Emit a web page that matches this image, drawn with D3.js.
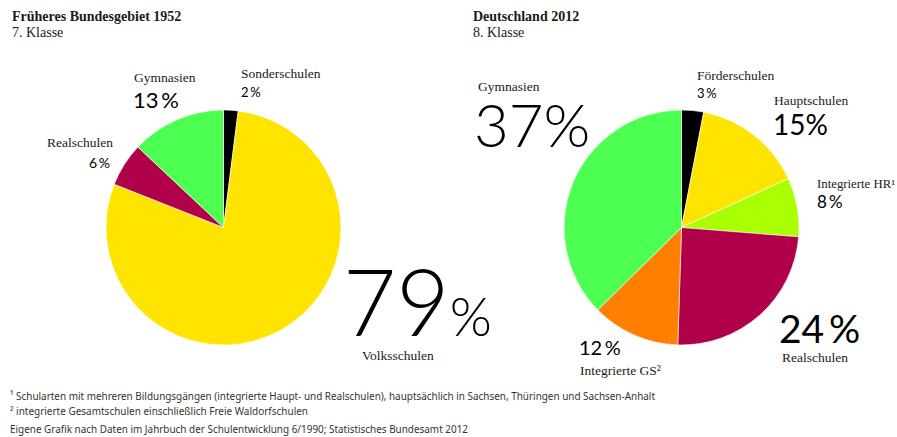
<!DOCTYPE html>
<html>
<head>
<meta charset="utf-8">
<script src="https://cdnjs.cloudflare.com/ajax/libs/d3/7.8.5/d3.min.js"></script>
<style>
  body { margin: 0; background: #fff; }
  svg { display: block; }
</style>
</head>
<body>
<div id="chart"></div>
<script>
// --- data ---
const cats1952 = ["Sonderschulen", "Volksschulen", "Realschulen", "Gymnasien"];
const values1952 = [2, 79, 6, 13];
const cats2012 = ["Förderschulen", "Hauptschulen", "Integrierte HR", "Realschulen", "Integrierte GS", "Gymnasien"];
const values2012 = [3, 15, 8, 24, 12, 37];

const colorMap = {
  "Sonderschulen": "#000000",
  "Förderschulen": "#000000",
  "Volksschulen": "#ffe400",
  "Hauptschulen": "#ffe400",
  "Integrierte HR": "#aaff00",
  "Realschulen": "#b00049",
  "Integrierte GS": "#ff8000",
  "Gymnasien": "#4cff50"
};

const footnotes = [
  "¹ Schularten mit mehreren Bildungsgängen (integrierte Haupt- und Realschulen), hauptsächlich in Sachsen, Thüringen und Sachsen-Anhalt",
  "² integrierte Gesamtschulen einschließlich Freie Waldorfschulen",
  "Eigene Grafik nach Daten im Jahrbuch der Schulentwicklung 6/1990; Statistisches Bundesamt 2012"
];

const width = 897, height = 437;
const serif = "'Liberation Serif', 'DejaVu Serif', serif";
const sans = "Lato, 'Open Sans', sans-serif";
const textColor = "#1a1a1a";

const svg = d3.select("#chart").append("svg")
  .attr("width", width)
  .attr("height", height);

const pie = d3.pie().sort(null).value(d => d.value);
const arc = d3.arc().innerRadius(0).outerRadius(117.5);

function drawPie(cx, cy, cats, values) {
  const data = cats.map((c, i) => ({ name: c, value: values[i] }));
  const g = svg.append("g").attr("transform", `translate(${cx},${cy})`);
  g.selectAll("path")
    .data(pie(data))
    .join("path")
    .attr("d", arc)
    .attr("fill", d => colorMap[d.data.name])
    .attr("stroke", "#fff")
    .attr("stroke-width", 0.6);
}

drawPie(223.5, 227.5, cats1952, values1952);
drawPie(681.5, 227.5, cats2012, values2012);

// --- titles ---
function title(x, main, sub) {
  svg.append("text").attr("x", x).attr("y", 21)
    .style("font-family", serif).style("font-weight", "bold")
    .style("font-size", "14px").style("fill", textColor)
    .text(main);
  svg.append("text").attr("x", x).attr("y", 37)
    .style("font-family", serif)
    .style("font-size", "14px").style("fill", textColor)
    .text(sub);
}
title(12, "Früheres Bundesgebiet 1952", "7. Klasse");
title(473, "Deutschland 2012", "8. Klasse");

// --- slice labels: name + percentage ---
const labels = [
  { name: "Gymnasien", nx: 134, ny: 82, pct: "13\u2009%", px: 133, py: 108, ps: 22 },
  { name: "Sonderschulen", nx: 241, ny: 78, pct: "2\u2009%", px: 241, py: 97, ps: 13 },
  { name: "Realschulen", nx: 47, ny: 147, pct: "6\u2009%", px: 110, py: 168, ps: 14, anchor: "end" },
  { name: "Volksschulen", nx: 362, ny: 360, pct: "79", px: 343, py: 336, ps: 92, pctSign: 54 },
  { name: "Gymnasien", nx: 478, ny: 91, pct: "37%", px: 474, py: 147, ps: 60 },
  { name: "Förderschulen", nx: 697, ny: 80, pct: "3\u2009%", px: 697, py: 98, ps: 13 },
  { name: "Hauptschulen", nx: 774, ny: 105, pct: "15%", px: 773, py: 135, ps: 28 },
  { name: "Integrierte HR¹", nx: 817, ny: 188, pct: "8\u2009%", px: 817, py: 208, ps: 17, nsize: 12.8 },
  { name: "Realschulen", nx: 782, ny: 362, pct: "24\u2009%", px: 779, py: 343, ps: 39 },
  { name: "Integrierte GS²", nx: 580, ny: 375, pct: "12\u2009%", px: 579, py: 355, ps: 20 }
];

labels.forEach(l => {
  svg.append("text").attr("x", l.nx).attr("y", l.ny)
    .style("font-family", serif).style("font-size", (l.nsize || 13.5) + "px")
    .style("fill", textColor).text(l.name);
  const t = svg.append("text").attr("x", l.px).attr("y", l.py)
    .attr("text-anchor", l.anchor || "start")
    .style("font-family", sans).style("font-weight", l.ps > 50 ? 300 : 400)
    .style("font-size", l.ps + "px").style("fill", "#000")
    .text(l.pct);
  if (l.pctSign) {
    t.append("tspan").style("font-size", l.pctSign + "px").text("%");
  }
});

// --- footnotes ---
const fnY = [400, 415, 433];
const fnLen = [645, 298, 458];
footnotes.forEach((f, i) => {
  svg.append("text").attr("x", 10).attr("y", fnY[i])
    .attr("textLength", fnLen[i]).attr("lengthAdjust", "spacingAndGlyphs")
    .style("font-family", "'Noto Sans', sans-serif").style("font-size", "11px")
    .style("fill", "#333").text(f);
});
</script>
</body>
</html>
